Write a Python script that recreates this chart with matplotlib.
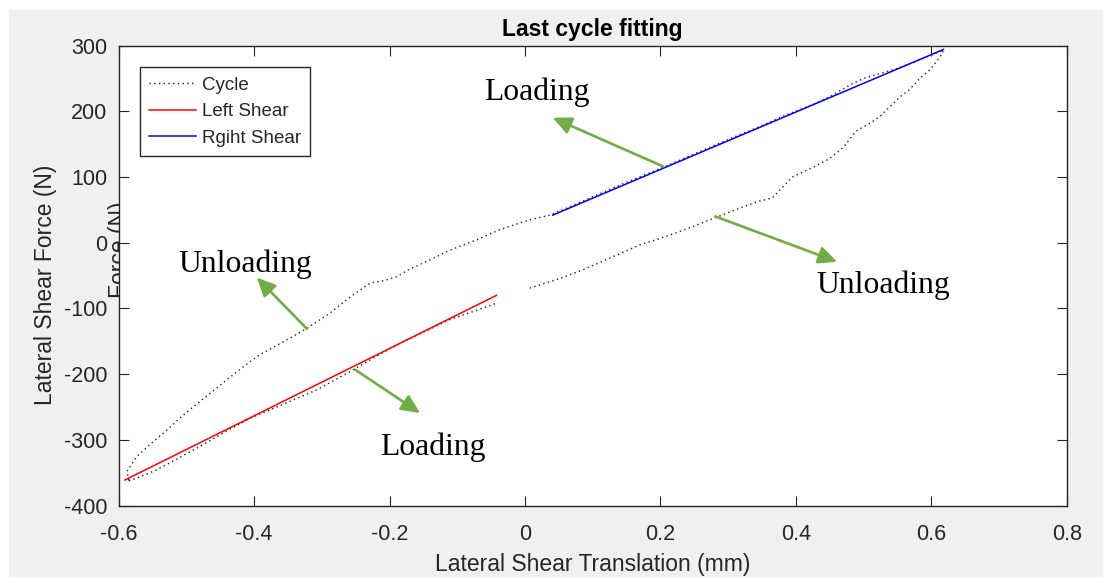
import numpy as np
import matplotlib
matplotlib.use("Agg")
import matplotlib.pyplot as plt
from matplotlib.patches import Rectangle

# ---- data -----------------------------------------------------------------
# hysteresis loop of the last cycle (loading branch, then unloading branch)
cycle_x = [-0.585, -0.573, -0.545, -0.514, -0.47, -0.44, -0.406, -0.36, -0.308,
           -0.26, -0.22, -0.185, -0.15, -0.111, -0.075, -0.042, np.nan,
           0.007, 0.05, 0.086, 0.135, 0.17, 0.195, 0.234, 0.283, 0.318, 0.345,
           0.365, 0.38, 0.395, 0.42, 0.45, 0.47, 0.489, 0.51, 0.524, 0.54,
           0.554, 0.568, 0.583, 0.598, 0.608, 0.615,
           0.618, 0.58, 0.55, 0.52, 0.5, 0.48, 0.45, 0.42, 0.38, 0.35, 0.3,
           0.25, 0.2, 0.15, 0.1, 0.06, 0.037, 0.007, -0.037, -0.07, -0.11,
           -0.14, -0.17, -0.19, -0.21, -0.228, -0.255, -0.288, -0.322, -0.347,
           -0.396, -0.43, -0.465, -0.5, -0.529, -0.555, -0.573, -0.588, -0.585]
cycle_y = [-362, -358, -346, -329, -304, -286, -267, -247, -224,
           -197, -173, -153, -136, -117, -104, -92, np.nan,
           -69, -55, -41, -19, -3, 5, 19, 39, 53, 63,
           68, 84, 100, 112, 128, 145, 170, 182, 192, 208,
           222, 233, 250, 263, 276, 286,
           293, 277, 265, 256, 250, 240, 222, 208, 192, 178, 157,
           135, 113, 92, 70, 52, 42, 35, 20, 5, -11,
           -26, -40, -52, -58, -61, -80, -107, -130, -145,
           -173, -200, -229, -258, -285, -308, -325, -348, -362]

# linear fits of the two shear branches (end points)
left_shear_x = [-0.591, -0.042]
left_shear_y = [-361, -80]
right_shear_x = [0.041, 0.618]
right_shear_y = [42, 294]

x_ticks = [-0.6, -0.4, -0.2, 0, 0.2, 0.4, 0.6, 0.8]
x_tick_labels = ["-0.6", "-0.4", "-0.2", "0", "0.2", "0.4", "0.6", "0.8"]
y_ticks = [-400, -300, -200, -100, 0, 100, 200, 300]
y_tick_labels = ["-400", "-300", "-200", "-100", "0", "100", "200", "300"]

# callouts: text, text anchor (baseline centre), arrow tail, arrow head
callout_text = ["Loading", "Unloading", "Loading", "Unloading"]
callout_pos = [(0.018, 217), (-0.413, -44), (-0.136, -323), (0.529, -76)]
arrow_tail = [(0.204, 116), (-0.322, -131), (-0.251, -193), (0.281, 40)]
arrow_head = [(0.041, 190), (-0.396, -53), (-0.155, -259), (0.461, -29)]

# ---- figure ---------------------------------------------------------------
W, H = 1103, 579
fig = plt.figure(figsize=(W / 100, H / 100), dpi=100, facecolor="white")
fig.patches.append(Rectangle((9 / W, 2 / H), (W - 9) / W, 567 / H,
                             transform=fig.transFigure, facecolor="#f0f0f0",
                             edgecolor="none", zorder=-5))

ax = fig.add_axes([118.7 / W, 73.3 / H, 948 / W, 460.2 / H])
ax.set_facecolor("white")

sans = "Liberation Sans"
serif = "Liberation Serif"
ink = "#262626"

# stray label partly hidden behind the axes
fig.text(119.5 / W, 1 - 250 / H, "Force (N)", rotation=90, ha="center",
         va="center", fontsize=16.5, family=sans, color=ink, zorder=-1)

ax.plot(cycle_x, cycle_y, color="#202020", lw=1.0, linestyle=(0, (1, 2.4)),
        label="Cycle")
ax.plot(left_shear_x, left_shear_y, color="#ff0000", lw=1.1, label="Left Shear")
ax.plot(right_shear_x, right_shear_y, color="#0000ff", lw=1.1,
        label="Rgiht Shear")

ax.set_xlim(-0.6, 0.8)
ax.set_ylim(-400, 300)
ax.set_xticks(x_ticks)
ax.set_xticklabels(x_tick_labels)
ax.set_yticks(y_ticks)
ax.set_yticklabels(y_tick_labels)
ax.tick_params(direction="in", length=7, width=0.8, top=True, right=True,
               labelsize=15.5, colors=ink)
ax.tick_params(axis="x", pad=13)
ax.tick_params(axis="y", pad=8)
for lab in ax.get_xticklabels() + ax.get_yticklabels():
    lab.set_family(sans)
for sp in ax.spines.values():
    sp.set_color(ink)
    sp.set_linewidth(1.0)

ax.set_title("Last cycle fitting", fontsize=16.5, fontweight="bold",
             family=sans, color="black", pad=7)
ax.set_xlabel("Lateral Shear Translation (mm)", fontsize=16.5, family=sans,
              color=ink)
ax.set_ylabel("Lateral Shear Force (N)", fontsize=16.5, family=sans, color=ink)
ax.xaxis.set_label_coords(0.5, -0.103)
ax.yaxis.set_label_coords(-0.065, 0.48)

leg = ax.legend(loc="upper left", bbox_to_anchor=(0.0225, 0.9526),
                borderaxespad=0, fancybox=False, framealpha=1,
                edgecolor=ink, prop={"family": sans, "size": 13.5},
                handlelength=2.5, handletextpad=0.3, labelspacing=0.5,
                borderpad=0.5)
leg.get_frame().set_linewidth(1.0)
for t in leg.get_texts():
    t.set_color(ink)

green = "#70ad47"
for txt, pos, tail, head in zip(callout_text, callout_pos, arrow_tail,
                                arrow_head):
    ax.text(pos[0], pos[1], txt, ha="center", va="baseline", fontsize=22.8,
            family=serif, color="black")
    ax.annotate("", xy=head, xytext=tail,
                arrowprops=dict(arrowstyle="-|>,head_length=0.75,head_width=0.35",
                                mutation_scale=15, color=green, lw=1.9,
                                shrinkA=0, shrinkB=0))

fig.savefig("out.png", dpi=100, facecolor=fig.get_facecolor())
